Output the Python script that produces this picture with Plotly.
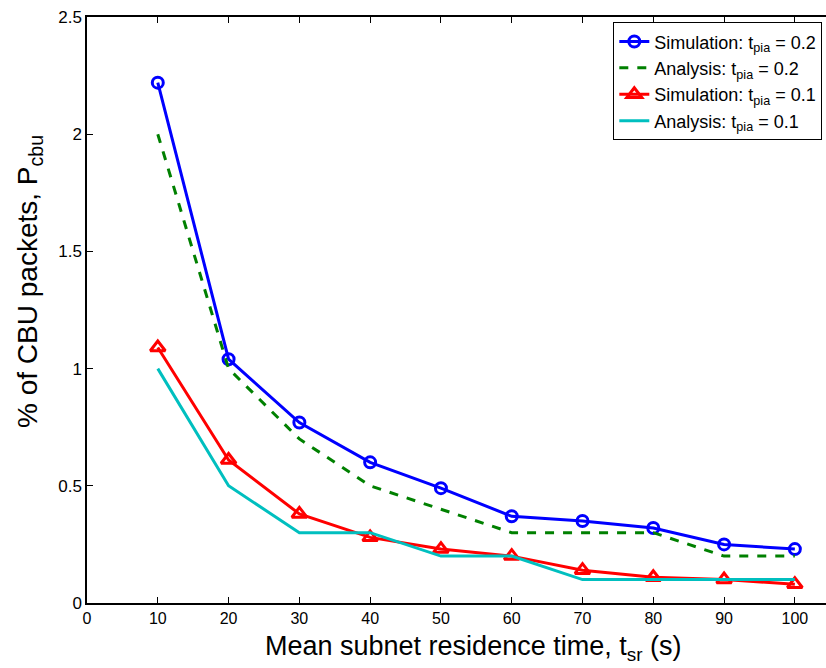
import plotly.graph_objects as go

x_vals = [10, 20, 30, 40, 50, 60, 70, 80, 90, 100]
sim_02 = [2.22, 1.04, 0.77, 0.60, 0.49, 0.37, 0.35, 0.32, 0.25, 0.23]
ana_02 = [2.0, 1.0, 0.7, 0.5, 0.4, 0.3, 0.3, 0.3, 0.2, 0.2]
sim_01 = [1.09, 0.61, 0.38, 0.28, 0.23, 0.20, 0.14, 0.11, 0.10, 0.08]
ana_01 = [1.0, 0.5, 0.3, 0.3, 0.2, 0.2, 0.1, 0.1, 0.1, 0.1]

x_ticks = [0, 10, 20, 30, 40, 50, 60, 70, 80, 90, 100]
y_ticks = [0, 0.5, 1, 1.5, 2, 2.5]
y_tick_text = ["0", "0.5", "1", "1.5", "2", "2.5"]

x_title = "Mean subnet residence time, t<sub>sr</sub> (s)"
y_title = "% of CBU packets, P<sub>cbu</sub>"

FONT = "Liberation Sans, Arial, Helvetica, sans-serif"

fig = go.Figure()
fig.add_trace(go.Scatter(
    x=x_vals, y=sim_02, mode="lines+markers",
    name="Simulation: t<sub>pia</sub> = 0.2",
    line=dict(color="#0000FF", width=3),
    marker=dict(symbol="circle-open", size=11, color="#0000FF", line=dict(width=3)),
))
fig.add_trace(go.Scatter(
    x=x_vals, y=ana_02, mode="lines",
    name="Analysis: t<sub>pia</sub> = 0.2",
    line=dict(color="#008000", width=3, dash="dash"),
))
fig.add_trace(go.Scatter(
    x=x_vals, y=sim_01, mode="lines+markers",
    name="Simulation: t<sub>pia</sub> = 0.1",
    line=dict(color="#FF0000", width=3),
    marker=dict(symbol="triangle-up-open", size=13, color="#FF0000", line=dict(width=3)),
))
fig.add_trace(go.Scatter(
    x=x_vals, y=ana_01, mode="lines",
    name="Analysis: t<sub>pia</sub> = 0.1",
    line=dict(color="#00BFBF", width=3),
))

fig.update_layout(
    width=826, height=668,
    margin=dict(l=87, r=0, t=17, b=65),
    plot_bgcolor="white", paper_bgcolor="white",
    font=dict(family=FONT, color="black", size=17),
    showlegend=True,
    legend=dict(
        x=0.995, y=0.991, xanchor="right", yanchor="top",
        bgcolor="white", bordercolor="black", borderwidth=1,
        font=dict(family=FONT, size=18, color="black"),
        tracegroupgap=0, itemwidth=30,
    ),
    xaxis=dict(
        range=[0, 104.4], tickvals=x_ticks,
        ticks="inside", ticklen=6, tickcolor="black", tickwidth=1,
        showline=True, linecolor="black", linewidth=1.5, mirror="ticks",
        showgrid=False, zeroline=False,
        tickfont=dict(family=FONT, size=16),
    ),
    yaxis=dict(
        range=[0, 2.5], tickvals=y_ticks, ticktext=y_tick_text,
        ticks="inside", ticklen=6, tickcolor="black", tickwidth=1,
        showline=True, linecolor="black", linewidth=1.5, mirror=False,
        showgrid=False, zeroline=False,
        tickfont=dict(family=FONT, size=17),
    ),
    annotations=[
        dict(text=x_title, xref="paper", yref="paper", x=0.522, y=-0.076,
             xanchor="center", yanchor="middle", showarrow=False,
             font=dict(family=FONT, size=27, color="black")),
        dict(text=y_title, xref="paper", yref="paper", x=-0.077, y=0.548,
             xanchor="center", yanchor="middle", showarrow=False, textangle=-90,
             font=dict(family=FONT, size=28, color="black")),
    ],
)

fig.write_html("out.html")
